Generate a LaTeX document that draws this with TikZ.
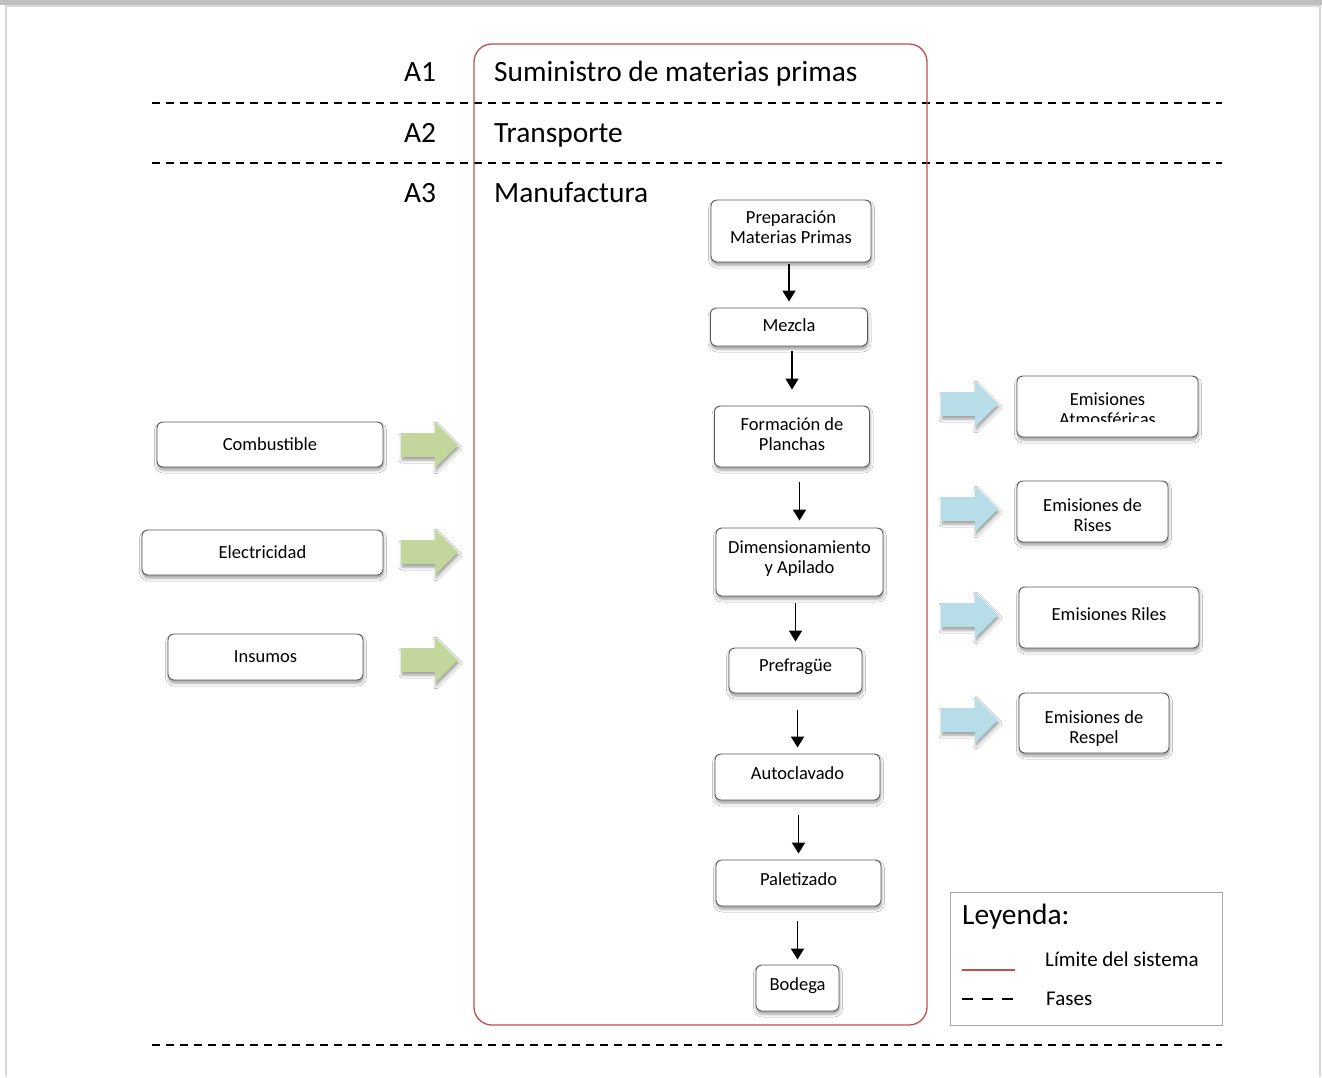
\documentclass[tikz,border=0pt]{standalone}
\usepackage{fontspec}
\setmainfont{Carlito}
\usetikzlibrary{arrows.meta,shadows.blur}

\definecolor{limitred}{HTML}{C0504D}
\definecolor{inputgreen}{HTML}{C3D69B}
\definecolor{outputblue}{HTML}{B7DDE8}
\definecolor{boxgray}{HTML}{5A5A5A}
\definecolor{legendgray}{HTML}{A6A6A6}
\definecolor{topgray}{HTML}{BFBFBF}
\definecolor{framegray}{HTML}{D9D9D9}

\newcommand{\phasefont}{\fontsize{29.4}{34}\selectfont}
\newcommand{\boxfont}{\fontsize{18.5}{20}\selectfont}
\newcommand{\legendfont}{\fontsize{21}{25}\selectfont}

\tikzset{
  stagebox/.style={draw=boxgray, line width=0.9pt, rounded corners=6pt, fill=white,
    align=center, font=\boxfont, inner sep=0pt,
    blur shadow={shadow xshift=0.5pt, shadow yshift=-3pt, shadow blur radius=3pt}},
  lifted/.style={execute at end node={\rule[-#1]{0pt}{0pt}}},
  lifted/.default=8pt,
  boxtext/.style={align=center, font=\boxfont, inner sep=0pt},
  phase/.style={dash pattern=on 7.7pt off 6.3pt, line width=2pt},
  flow/.style={line width=1.8pt, -{Triangle[width=13pt,length=11pt]}},
  arrshadow/.style={blur shadow={shadow xshift=1pt, shadow yshift=-3pt, shadow blur radius=3pt}}
}

\begin{document}
\begin{tikzpicture}[x=1pt,y=-1pt]
\useasboundingbox (0,0) rectangle (1322,1077);
\fill[white] (0,0) rectangle (1322,1077);
\fill[topgray] (0,0) rectangle (1322,5);
\draw[framegray, line width=2pt] (6,1077) -- (6,6) -- (1320,6) -- (1320,1077);

% phases
\foreach \y in {103,163,1045}
  \draw[phase] (152,\y) -- (1222,\y);
\node[font=\phasefont, anchor=base] (a1) at (420,81.5) {A1};
\node[font=\phasefont, anchor=base] (a2) at (420,142.5) {A2};
\node[font=\phasefont, anchor=base] (a3) at (420,202.5) {A3};
\node[font=\phasefont, anchor=base west, inner sep=0pt] (supply) at (494,81.5) {Suministro de materias primas};
\node[font=\phasefont, anchor=base west, inner sep=0pt] (transport) at (494,142.5) {Transporte};
\node[font=\phasefont, anchor=base west, inner sep=0pt] (manuf) at (494,202.5) {Manufactura};

% system boundary
\draw[limitred, line width=1.3pt, rounded corners=18pt] (474,44) rectangle (927,1025);

% process
\node[stagebox, lifted, minimum width=160pt, minimum height=62pt] (prep) at (791,231) {Preparación\\Materias Primas};
\node[stagebox, lifted=4pt, minimum width=157pt, minimum height=38pt] (mezcla) at (789,327) {Mezcla};
\node[stagebox, lifted=5pt, minimum width=155pt, minimum height=61pt] (form) at (792,436.5) {Formación de\\Planchas};
\node[stagebox, lifted=9.7pt, minimum width=167pt, minimum height=68pt] (dim) at (799.5,562) {Dimensionamiento\\y Apilado};
\node[stagebox, lifted=10.7pt, minimum width=133pt, minimum height=45pt] (pref) at (795.5,670.5) {Prefragüe};
\node[stagebox, lifted, minimum width=165pt, minimum height=46pt] (auto) at (797.5,777) {Autoclavado};
\node[stagebox, lifted, minimum width=165pt, minimum height=46pt] (palet) at (798.5,883) {Paletizado};
\node[stagebox, lifted=8.7pt, minimum width=83pt, minimum height=46pt] (bodega) at (797.5,988) {Bodega};

\foreach \a/\b/\s/\e in {prep/mezcla/2/6, mezcla/form/5/16, form/dim/15/7, dim/pref/7/6,
    pref/auto/17/6, auto/palet/15/6, palet/bodega/15/5}
  \draw[flow, shorten <=\s pt, shorten >=\e pt] (\a.south -| \b.north) -- (\b.north);

% inputs
\node[stagebox, minimum width=226pt, minimum height=45pt] (fuel) at (270,444.5) {Combustible};
\node[stagebox, minimum width=241pt, minimum height=45pt] (power) at (262.5,552.5) {Electricidad};
\node[stagebox, minimum width=195pt, minimum height=46pt] (supplies) at (265.5,657) {Insumos};
\foreach \y in {445,552,660}
  \fill[inputgreen, arrshadow] (401,\y-12) -- ++(34,0) -- ++(0,-11) -- (458,\y)
    -- (435,\y+23) -- ++(0,-11) -- (401,\y+12) -- cycle;

% outputs
\foreach \y in {404,509,615,720}
  \fill[outputblue, arrshadow] (941,\y-12) -- ++(34,0) -- ++(0,-11) -- (998,\y)
    -- (975,\y+23) -- ++(0,-11) -- (941,\y+12) -- cycle;
\node[stagebox, minimum width=181pt, minimum height=61pt] (atm) at (1107.5,406.5) {};
\begin{scope}
  \clip (atm.north west) rectangle ([yshift=16pt]atm.south east);
  \node[boxtext] (atmtext) at (1107.5,409) {Emisiones\\Atmosféricas};
\end{scope}
\node[stagebox, minimum width=151pt, minimum height=61pt] (rises) at (1092.5,511.5) {};
\node[boxtext] (risestext) at (1092.5,515) {Emisiones de\\Rises};
\node[stagebox, lifted=6pt, minimum width=180pt, minimum height=61pt] (riles) at (1109,617.5) {Emisiones Riles};
\node[stagebox, minimum width=150pt, minimum height=60pt] (respel) at (1094,723) {};
\begin{scope}
  \clip (respel.north west) rectangle ([yshift=6pt]respel.south east);
  \node[boxtext] (respeltext) at (1094,729) {Emisiones de\\Respel};
\end{scope}

% legend
\node[draw=legendgray, line width=1pt, minimum width=272pt, minimum height=133pt, inner sep=0pt] (legend) at (1086,958.5) {};
\node[font=\phasefont, anchor=base west, inner sep=0pt] (legtitle) at (962,924.5) {Leyenda:};
\draw[limitred, line width=2pt] (962,970) -- (1015,970);
\node[font=\legendfont, anchor=base west, inner sep=0pt] (legbound) at (1045,966.5) {Límite del sistema};
\draw[line width=2pt, dash pattern=on 11pt off 9pt] (962,999) -- (1015,999);
\node[font=\legendfont, anchor=base west, inner sep=0pt] (legphase) at (1046,1005.5) {Fases};
\end{tikzpicture}
\end{document}
